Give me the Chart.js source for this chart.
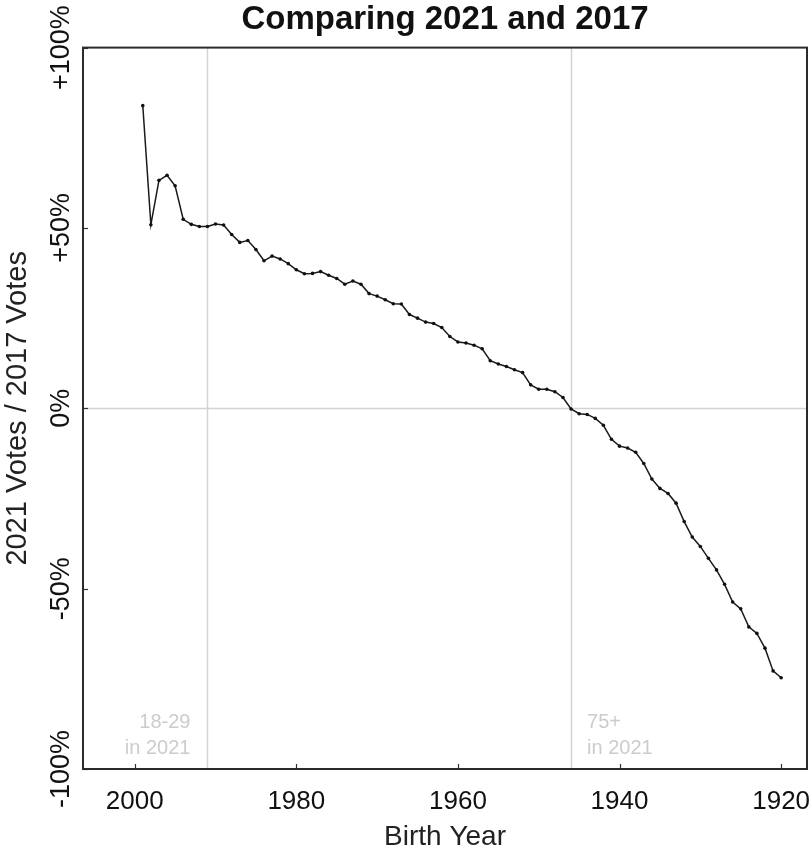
<!DOCTYPE html>
<html>
<head>
<meta charset="utf-8">
<script src="https://cdn.jsdelivr.net/npm/chart.js@4/dist/chart.umd.min.js"></script>
<style>
  html, body { margin: 0; padding: 0; background: #fff; }
  #wrap { width: 812px; height: 854px; }
</style>
</head>
<body>
<div id="wrap"><canvas id="compareChart" width="812" height="854"></canvas></div>
<script>
// birth years, youngest first (x axis runs right-to-left)
const birthYears = [
  1999, 1998, 1997, 1996, 1995, 1994, 1993, 1992, 1991, 1990,
  1989, 1988, 1987, 1986, 1985, 1984, 1983, 1982, 1981, 1980,
  1979, 1978, 1977, 1976, 1975, 1974, 1973, 1972, 1971, 1970,
  1969, 1968, 1967, 1966, 1965, 1964, 1963, 1962, 1961, 1960,
  1959, 1958, 1957, 1956, 1955, 1954, 1953, 1952, 1951, 1950,
  1949, 1948, 1947, 1946, 1945, 1944, 1943, 1942, 1941, 1940,
  1939, 1938, 1937, 1936, 1935, 1934, 1933, 1932, 1931, 1930,
  1929, 1928, 1927, 1926, 1925, 1924, 1923, 1922, 1921, 1920
];

// 2021 votes / 2017 votes, change in %
const voteChange = [
  83.9, 50.9, 63.2, 64.6, 61.7, 52.4, 51.0, 50.4, 50.4, 51.1,
  50.8, 48.2, 46.0, 46.5, 44.0, 40.9, 42.2, 41.4, 40.1, 38.4,
  37.3, 37.4, 37.9, 36.9, 36.0, 34.4, 35.3, 34.4, 31.8, 31.1,
  30.1, 29.0, 28.9, 26.0, 25.0, 23.9, 23.5, 22.4, 19.9, 18.4,
  18.1, 17.5, 16.5, 13.2, 12.3, 11.6, 10.7, 9.9, 6.5, 5.3,
  5.3, 4.6, 3.0, -0.2, -1.5, -1.7, -2.8, -4.7, -8.6, -10.5,
  -11.0, -12.2, -15.3, -19.6, -22.2, -23.6, -26.3, -31.4, -35.7, -38.3,
  -41.6, -44.8, -48.8, -53.7, -55.6, -60.6, -62.4, -66.5, -72.8, -74.7
];

const xTickValues = [2000, 1980, 1960, 1940, 1920];
const yTickValues = [100, 50, 0, -50, -100];
const yTickLabels = ['+100%', '+50%', '0%', '-50%', '-100%'];

// reference lines: age group borders and zero change
const groupYears = [1991, 1946];
const groupLabels = [['18-29', 'in 2021'], ['75+', 'in 2021']];
const zeroLine = 0;

const FONT = "'Liberation Sans', Arial, sans-serif";

const points = birthYears.map((yr, i) => ({ x: yr, y: voteChange[i] }));

// grey guide lines, frame, inner tick marks and group notes
const decorations = {
  id: 'decorations',
  beforeDatasetsDraw(chart) {
    const { ctx, chartArea: a, scales: { x, y } } = chart;
    ctx.save();
    ctx.strokeStyle = '#d3d3d3';
    ctx.lineWidth = 1.5;
    groupYears.forEach(yr => {
      const px = Math.round(x.getPixelForValue(yr)) + 0.5;
      ctx.beginPath();
      ctx.moveTo(px, a.top);
      ctx.lineTo(px, a.bottom);
      ctx.stroke();
    });
    const py = Math.round(y.getPixelForValue(zeroLine)) + 0.5;
    ctx.beginPath();
    ctx.moveTo(a.left, py);
    ctx.lineTo(a.right, py);
    ctx.stroke();

    // notes next to the group lines
    ctx.fillStyle = '#cccccc';
    ctx.font = '20px ' + FONT;
    ctx.textBaseline = 'alphabetic';
    const x0 = x.getPixelForValue(groupYears[0]);
    const x1 = x.getPixelForValue(groupYears[1]);
    ctx.textAlign = 'right';
    ctx.fillText(groupLabels[0][0], x0 - 17, a.bottom - 41);
    ctx.fillText(groupLabels[0][1], x0 - 17, a.bottom - 15);
    ctx.textAlign = 'left';
    ctx.fillText(groupLabels[1][0], x1 + 16, a.bottom - 41);
    ctx.fillText(groupLabels[1][1], x1 + 16, a.bottom - 15);
    ctx.restore();
  },
  afterDraw(chart) {
    const { ctx, chartArea: a, scales: { x, y } } = chart;
    ctx.save();
    ctx.strokeStyle = '#333';
    ctx.lineWidth = 1.2;
    xTickValues.forEach(v => {
      const px = Math.round(x.getPixelForValue(v)) + 0.5;
      ctx.beginPath();
      ctx.moveTo(px, a.bottom);
      ctx.lineTo(px, a.bottom - 5);
      ctx.stroke();
    });
    yTickValues.forEach(v => {
      const py = Math.round(y.getPixelForValue(v)) + 0.5;
      ctx.beginPath();
      ctx.moveTo(a.left, py);
      ctx.lineTo(a.left + 5, py);
      ctx.stroke();
    });
    ctx.lineWidth = 2;
    ctx.strokeStyle = '#2b2b2b';
    ctx.strokeRect(a.left, a.top, a.right - a.left, a.bottom - a.top);
    ctx.restore();
  }
};

new Chart(document.getElementById('compareChart').getContext('2d'), {
  type: 'line',
  data: {
    datasets: [{
      data: points,
      borderColor: '#1a1a1a',
      borderWidth: 1.5,
      backgroundColor: '#111',
      pointRadius: 1.8,
      pointBorderWidth: 0,
      tension: 0
    }]
  },
  options: {
    responsive: false,
    animation: false,
    layout: { padding: { top: 0, right: 5, bottom: 0, left: 0 } },
    plugins: {
      legend: { display: false },
      tooltip: { enabled: false },
      title: {
        display: true,
        fullSize: false,
        text: 'Comparing 2021 and 2017',
        color: '#111',
        font: { family: FONT, size: 33, weight: 'bold' },
        padding: { top: 0, bottom: 8 }
      }
    },
    scales: {
      x: {
        type: 'linear',
        reverse: true,
        min: 1916.8,
        max: 2006.4,
        afterBuildTicks: s => { s.ticks = xTickValues.map(v => ({ value: v })); },
        afterFit: s => { s.height = 85; s.paddingLeft = 0; s.paddingRight = 0; },
        grid: { display: false, drawTicks: false },
        border: { display: false },
        ticks: {
          color: '#111',
          font: { family: FONT, size: 26 },
          padding: 17,
          maxRotation: 0,
          callback: v => String(v)
        },
        title: {
          display: true,
          text: 'Birth Year',
          color: '#222',
          font: { family: FONT, size: 28 },
          padding: { top: 0, bottom: 0 }
        }
      },
      y: {
        min: -100,
        max: 100,
        afterBuildTicks: s => { s.ticks = yTickValues.map(v => ({ value: v })); },
        afterFit: s => { s.width = 83; s.paddingTop = 0; s.paddingBottom = 0; },
        grid: { display: false, drawTicks: false },
        border: { display: false },
        ticks: {
          color: '#111',
          font: { family: FONT, size: 27 },
          minRotation: 90,
          maxRotation: 90,
          crossAlign: 'center',
          padding: -21,
          callback: v => yTickLabels[yTickValues.indexOf(v)]
        },
        title: {
          display: true,
          text: '2021 Votes / 2017 Votes',
          color: '#222',
          font: { family: FONT, size: 29 },
          padding: { top: 1, bottom: 0 }
        }
      }
    }
  },
  plugins: [decorations]
});
</script>
</body>
</html>
